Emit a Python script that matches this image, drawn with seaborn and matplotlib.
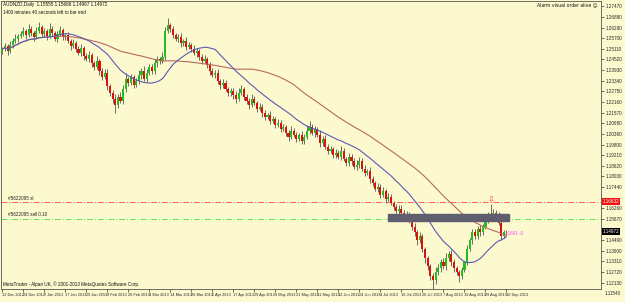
import numpy as np
import pandas as pd
import matplotlib
matplotlib.use("Agg")
import matplotlib.pyplot as plt
import seaborn as sns
from matplotlib.patches import Rectangle

# --- data ---
first_open = 1.2495
closes = [
    1.2509, 1.2526, 1.2498, 1.2531, 1.2554, 1.2565, 1.2581, 1.2592,
    1.2609, 1.2587, 1.2620, 1.2598, 1.2576, 1.2609, 1.2631, 1.2592,
    1.2609, 1.2581, 1.2620, 1.2598, 1.2565, 1.2592, 1.2614, 1.2576,
    1.2587, 1.2554, 1.2526, 1.2542, 1.2509, 1.2487, 1.2515, 1.2471,
    1.2454, 1.2476, 1.2432, 1.2410, 1.2443, 1.2388, 1.2354, 1.2377,
    1.2305, 1.2266, 1.2233, 1.2200, 1.2244, 1.2222, 1.2288, 1.2343,
    1.2321, 1.2354, 1.2310, 1.2332, 1.2366, 1.2388, 1.2343, 1.2377,
    1.2410, 1.2388, 1.2432, 1.2454, 1.2443, 1.2465, 1.2609, 1.2642,
    1.2620, 1.2587, 1.2565, 1.2576, 1.2543, 1.2554, 1.2520, 1.2532,
    1.2509, 1.2487, 1.2498, 1.2465, 1.2443, 1.2454, 1.2421, 1.2388,
    1.2366, 1.2377, 1.2332, 1.2310, 1.2321, 1.2288, 1.2266, 1.2277,
    1.2255, 1.2233, 1.2266, 1.2288, 1.2244, 1.2222, 1.2200, 1.2233,
    1.2211, 1.2177, 1.2189, 1.2155, 1.2133, 1.2144, 1.2111, 1.2122,
    1.2089, 1.2100, 1.2067, 1.2078, 1.2045, 1.2023, 1.2056, 1.2034,
    1.2012, 1.2034, 1.2001, 1.2023, 1.2056, 1.2078, 1.2045, 1.2067,
    1.2034, 1.1989, 1.2012, 1.1967, 1.1945, 1.1956, 1.1923, 1.1934,
    1.1912, 1.1945, 1.1901, 1.1879, 1.1912, 1.1890, 1.1857, 1.1868,
    1.1890, 1.1846, 1.1824, 1.1835, 1.1790, 1.1768, 1.1735, 1.1746,
    1.1702, 1.1724, 1.1680, 1.1691, 1.1658, 1.1636, 1.1613, 1.1624,
    1.1602, 1.1580, 1.1591, 1.1558, 1.1525, 1.1492, 1.1448, 1.1470,
    1.1403, 1.1348, 1.1304, 1.1248, 1.1226, 1.1271, 1.1293, 1.1326,
    1.1304, 1.1348, 1.1370, 1.1326, 1.1293, 1.1271, 1.1248, 1.1282,
    1.1326, 1.1403, 1.1448, 1.1492, 1.1470, 1.1514, 1.1492, 1.1525,
    1.1558, 1.1580, 1.1569, 1.1602, 1.1591, 1.1547, 1.1470, 1.1492, 1.1497,
]
wick_up_pips = [
    12, 18, 10, 22, 15, 30, 14, 20,
    25, 12, 30, 16, 10, 22, 28, 14,
    18, 10, 35, 15, 12, 20, 24, 10,
    14, 20, 12, 25, 10, 18, 22, 12,
    16, 24, 12, 10, 28, 14, 18, 22,
    20, 12, 15, 25, 18, 30, 22, 35,
    14, 20, 12, 18, 25, 16, 28, 22,
    15, 18, 25, 20, 12, 30, 22, 40,
    15, 20, 12, 18, 24, 14, 20, 16,
    12, 22, 18, 14, 20, 25, 12, 16,
    18, 14, 20, 12, 22, 16, 10, 18,
    15, 20, 28, 22, 12, 18, 14, 26,
    16, 12, 20, 14, 18, 10, 22, 15,
    12, 20, 14, 18, 10, 16, 28, 14,
    18, 12, 20, 15, 30, 35, 14, 18,
    12, 25, 15, 20, 14, 18, 10, 22,
    16, 28, 14, 12, 20, 18, 15, 24,
    20, 14, 18, 12, 22, 16, 12, 20,
    15, 22, 12, 18, 16, 10, 14, 20,
    18, 14, 20, 12, 16, 22, 14, 25,
    12, 10, 16, 14, 18, 30, 24, 20,
    22, 28, 18, 25, 20, 15, 12, 18,
    10, 20, 15, 18, 22, 14, 18, 16,
    20, 24, 70, 18, 15, 12, 10, 14, 10,
]
wick_dn_pips = [
    15, 10, 20, 12, 18, 10, 14, 12,
    12, 20, 10, 15, 22, 12, 10, 18,
    14, 20, 12, 16, 10, 18, 12, 15,
    18, 12, 20, 10, 16, 12, 14, 20,
    12, 15, 20, 18, 10, 22, 16, 12,
    20, 18, 25, 45, 15, 12, 18, 14,
    16, 12, 18, 10, 14, 20, 12, 16,
    12, 18, 14, 20, 16, 12, 15, 10,
    14, 18, 12, 16, 20, 15, 18, 12,
    16, 12, 20, 14, 18, 12, 16, 22,
    12, 18, 14, 20, 16, 12, 18, 14,
    20, 25, 14, 12, 18, 16, 22, 14,
    14, 18, 12, 20, 16, 14, 18, 12,
    16, 12, 18, 14, 20, 22, 15, 12,
    18, 14, 20, 16, 12, 18, 14, 22,
    12, 20, 16, 14, 18, 12, 20, 16,
    14, 18, 12, 20, 16, 22, 14, 18,
    16, 12, 20, 14, 25, 18, 12, 16,
    18, 14, 22, 16, 12, 20, 15, 18,
    14, 20, 16, 12, 18, 22, 25, 15,
    20, 25, 18, 22, 45, 20, 16, 18,
    14, 22, 16, 20, 18, 14, 30, 12,
    12, 16, 14, 18, 12, 16, 20, 14,
    12, 14, 10, 16, 12, 14, 18, 10, 12,
]
date_labels = [
    "12 Dec 2012", "24 Dec 2012", "7 Jan 2013", "17 Jan 2013", "29 Jan 2013",
    "8 Feb 2013", "20 Feb 2013", "4 Mar 2013", "14 Mar 2013", "26 Mar 2013",
    "5 Apr 2013", "17 Apr 2013", "29 Apr 2013", "9 May 2013", "21 May 2013",
    "31 May 2013", "12 Jun 2013", "24 Jun 2013", "4 Jul 2013", "16 Jul 2013",
    "26 Jul 2013", "7 Aug 2013", "19 Aug 2013", "29 Aug 2013", "10 Sep 2013",
]
bars_per_label = 8
price_ticks = [
    1.27470, 1.26880, 1.26290, 1.25700, 1.25110, 1.24520, 1.23930,
    1.23340, 1.22750, 1.22160, 1.21570, 1.20980, 1.20390, 1.19800,
    1.19210, 1.18620, 1.18030, 1.17440, 1.16850, 1.16260, 1.15670,
    1.15080, 1.14490, 1.13900, 1.13310, 1.12720, 1.12130, 1.11540,
]
sl_price = 1.16632
entry_price = 1.15692
zone_bars = [147, 193]
zone_prices = [1.15581, 1.15969]
arrow_bar = 186
arrow_price = 1.1670
last_price = 1.14972

# colours
BG = "#FDF9CF"
BULL = "#20C020"
BEAR = "#DD1010"
WICK = "#6A6A6A"
FS = 3.3
FS_DATE = 2.8

opens = [first_open] + closes[:-1]
df = pd.DataFrame({"bar": np.arange(len(closes)), "open": opens, "close": closes})
df["high"] = df[["open", "close"]].max(axis=1) + np.array(wick_up_pips) * 0.0001
df["low"] = df[["open", "close"]].min(axis=1) - np.array(wick_dn_pips) * 0.0001
df["ma_fast"] = df["close"].rolling(20, min_periods=1).mean()
df["ma_slow"] = df["close"].rolling(50, min_periods=1).mean()

sns.set_style("white", {"axes.facecolor": BG, "figure.facecolor": BG})
plt.rcParams["font.family"] = ["Liberation Sans Narrow", "Liberation Sans", "DejaVu Sans"]

fig = plt.figure(figsize=(6.25, 3.02), dpi=100)
ax = fig.add_axes([1 / 625, 13 / 302, 600 / 625, 288 / 302])

# candles
ax.vlines(df["bar"], df["low"], df["high"], color=WICK, lw=0.7, zorder=2)
up = df["close"] >= df["open"]
dn = ~up
ax.bar(df["bar"][up], (df["close"] - df["open"])[up].clip(lower=0.00008),
       bottom=df["open"][up], width=0.8, color=BULL, linewidth=0, zorder=3)
ax.bar(df["bar"][dn], (df["open"] - df["close"])[dn],
       bottom=df["close"][dn], width=0.8, color=BEAR, linewidth=0, zorder=3)

# moving averages
sns.lineplot(data=df, x="bar", y="ma_slow", ax=ax, color="#B8685E", lw=0.8, zorder=4)
sns.lineplot(data=df, x="bar", y="ma_fast", ax=ax, color="#5A5AB4", lw=0.8, zorder=4)

# order levels
ax.axhline(sl_price, color="#FF5A5A", lw=0.7, ls=(0, (6, 2, 1, 2)), zorder=1)
ax.axhline(entry_price, color="#66DD55", lw=0.7, ls=(0, (6, 2, 1, 2)), zorder=1)
ax.text(2, sl_price + 0.0006, "#5622095 sl", fontsize=FS, color="#222222", va="bottom")
ax.text(2, entry_price + 0.0006, "#5622095 sell 0.10", fontsize=FS, color="#222222", va="bottom")

# supply zone
ax.add_patch(Rectangle((zone_bars[0], zone_prices[0]), zone_bars[1] - zone_bars[0],
                       zone_prices[1] - zone_prices[0], color="#5E5E6E", zorder=5))

ax.text(arrow_bar, arrow_price, "\u21e9", color="#FF3030", fontsize=6,
        ha="center", va="center", zorder=6, family="DejaVu Sans")
ax.text(191.5, last_price - 0.0012, "+1601 -0", color="#FF44FF", fontsize=FS,
        va="center", zorder=6)

# header and footer texts
ax.text(0.004, 0.995, "AUDNZD,Daily  1.15555 1.15666 1.14967 1.14972", transform=ax.transAxes,
        fontsize=FS, va="top", color="#111111")
ax.text(0.004, 0.968, "1400 minutes 40 seconds left to bar end", transform=ax.transAxes,
        fontsize=FS, va="top", color="#111111")
ax.text(0.995, 0.995, "Alarm visual order alive \u263a", transform=ax.transAxes,
        fontsize=FS, va="top", ha="right", color="#111111",
        family=["Liberation Sans Narrow", "DejaVu Sans"])
ax.text(0.004, 0.008, "MetaTrader - Alpari UK, \u00a9 2001-2013 MetaQuotes Software Corp.",
        transform=ax.transAxes, fontsize=FS, va="bottom", color="#111111")

# axes, limits, ticks
ax.set_xlim(-0.5, 228)
ax.set_ylim(1.27765 - 0.000553 * 289, 1.27765)
ax.set_xlabel("")
ax.set_ylabel("")

xt = np.arange(len(date_labels)) * bars_per_label
ax.set_xticks(xt)
ax.set_xticklabels(date_labels, fontsize=FS_DATE, ha="left")
ax.tick_params(axis="x", length=2, width=0.5, pad=0.8, color="#333333", bottom=True)

# price labels hidden behind the sl / last-price boxes are left out
ylo, yhi = ax.get_ylim()
inside = [p for p in price_ticks if ylo <= p <= yhi]
ax.yaxis.tick_right()
ax.set_yticks(inside)
ylabels = []
for p in inside:
    hidden = abs(p - sl_price) < 0.0026 or abs(p - last_price) < 0.0026
    ylabels.append("" if hidden else f"{p:.5f}")
ax.set_yticklabels(ylabels, fontsize=FS)
ax.tick_params(axis="y", length=2, width=0.5, pad=1.2, color="#333333", right=True, left=False)
for p in price_ticks:
    if p < ylo:
        ax.text(1.0055, p, f"{p:.5f}", transform=ax.get_yaxis_transform(), fontsize=FS,
                va="center", clip_on=False)

ax.text(1.003, sl_price, f"{sl_price:.5f}", transform=ax.get_yaxis_transform(), fontsize=FS,
        va="center", color="white", clip_on=False, zorder=10,
        bbox=dict(boxstyle="square,pad=0.15", fc="#EE1111", ec="none"))
ax.text(1.003, last_price, f"{last_price:.5f}", transform=ax.get_yaxis_transform(), fontsize=FS,
        va="center", color="white", clip_on=False, zorder=10,
        bbox=dict(boxstyle="square,pad=0.15", fc="#000000", ec="none"))

for side in ["left", "right", "top", "bottom"]:
    ax.spines[side].set_color("#555555")
    ax.spines[side].set_linewidth(0.6)

fig.savefig("out.png", dpi=100, facecolor=BG)
